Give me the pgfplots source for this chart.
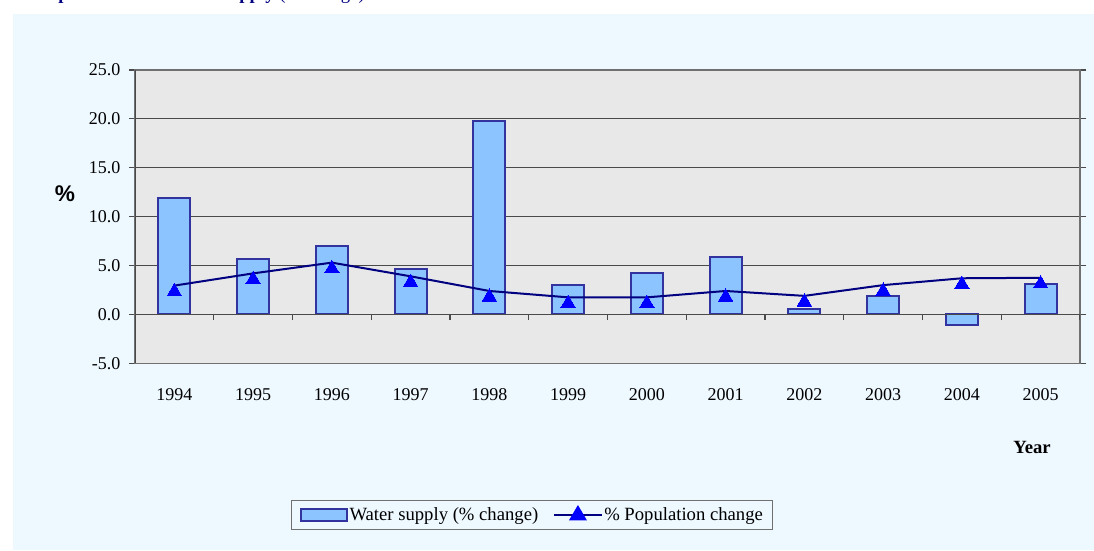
\documentclass[border=0pt]{standalone}
\usepackage{fontspec}
\setmainfont{Liberation Serif}
\newfontfamily\arialfont{Liberation Sans}
\usepackage{pgfplots}
\pgfplotsset{compat=1.18}

\definecolor{panel}{HTML}{EEF8FF}
\definecolor{plotbg}{HTML}{E8E8E8}
\definecolor{gridc}{HTML}{4A4A4A}
\definecolor{framec}{HTML}{707070}
\definecolor{barfill}{HTML}{8CC4FF}
\definecolor{baredge}{HTML}{3333A0}
\definecolor{linec}{HTML}{000080}
\definecolor{markc}{HTML}{0000FF}

\begin{document}
\begin{tikzpicture}
% background panel
\fill[panel] (9.75pt,-10.5pt) rectangle (820.5pt,-412.5pt);
% title, cut off at the top edge as in the source
\node[anchor=base west, text=linec, inner sep=0pt,
      font=\fontsize{14}{16}\selectfont\bfseries] at (28pt,0.2pt)
      {Population and Water Supply \mdseries(\% change)};

\begin{axis}[
    at={(101.25pt,-272.5pt)}, anchor=south west,
    scale only axis, width=708.75pt, height=220pt,
    axis background/.style={fill=plotbg},
    axis line style={draw=framec, line width=1.2pt},
    xmin=-0.5, xmax=11.5,
    ymin=-5, ymax=25,
    xtick={0,...,11},
    xticklabels={1994,1995,1996,1997,1998,1999,2000,2001,2002,2003,2004,2005},
    xtick style={draw=none},
    xticklabel shift=11pt,
    ytick={-5,0,5,10,15,20,25},
    ytick style={draw=gridc, line width=0.8pt},
    yticklabel shift=3pt,
    tick align=outside,
    major tick length=4.5pt,
    ymajorgrids,
    grid style={draw=gridc, line width=0.8pt},
    yticklabel style={/pgf/number format/.cd, fixed, fixed zerofill, precision=1},
    /pgf/number format/assume math mode=true,
    tick label style={font=\fontsize{13.5}{16}\selectfont},
    legend style={at={(0.42,-0.517)}, anchor=center, legend columns=2,
        draw=framec, fill=panel, line width=0.8pt,
        font=\fontsize{14}{16}\selectfont,
        inner xsep=6pt, inner ysep=3pt,
        nodes={inner xsep=1pt},
        /tikz/every even column/.append style={column sep=10pt}},
]
\addplot[ybar, bar width=24pt, fill=barfill, draw=baredge, line width=1.5pt,
    legend image code/.code={\draw[fill=barfill, draw=baredge, line width=1.5pt]
        (0pt,-4.7pt) rectangle (35pt,4.7pt);}]
    coordinates {(0,11.9) (1,5.65) (2,7.0) (3,4.65) (4,19.8) (5,3.05)
                 (6,4.2) (7,5.85) (8,0.55) (9,1.9) (10,-1.1) (11,3.1)};
\addlegendentry{Water supply (\% change)}

\addplot[sharp plot, linec, line width=1.5pt,
    mark=triangle*, mark size=6.2pt,
    mark options={fill=markc, draw=markc, line width=0pt, yshift=-4.5pt},
    legend image code/.code={
        \draw[linec, line width=1.5pt] (0pt,0pt) -- (36pt,0pt);
        \fill[markc] (18pt,6pt) -- (12.6pt,-3.2pt) -- (23.4pt,-3.2pt) -- cycle;}]
    coordinates {(0,2.95) (1,4.2) (2,5.3) (3,3.9) (4,2.4) (5,1.75)
                 (6,1.75) (7,2.4) (8,1.9) (9,3.0) (10,3.7) (11,3.75)};
\addlegendentry{\% Population change}

% zero line with category ticks
\draw[gridc, line width=1pt] (axis cs:-0.5,0) -- (axis cs:11.5,0);
\pgfplotsinvokeforeach{0.5,1.5,...,11.5}{
    \draw[gridc, line width=0.8pt] (axis cs:#1,0) -- ++(0pt,-4.5pt);
}
% darker value axis on the left
\draw[gridc, line width=1.2pt] (axis cs:-0.5,-5) -- (axis cs:-0.5,25);
\end{axis}

\node[font=\arialfont\bfseries\fontsize{17}{20}\selectfont] at (48.75pt,-145.5pt) {\%};
\node[font=\bfseries\fontsize{14}{16}\selectfont] at (774pt,-335.25pt) {Year};

\pgfresetboundingbox
\useasboundingbox (0pt,0pt) rectangle (820.5pt,-412.5pt);
\end{tikzpicture}
\end{document}
